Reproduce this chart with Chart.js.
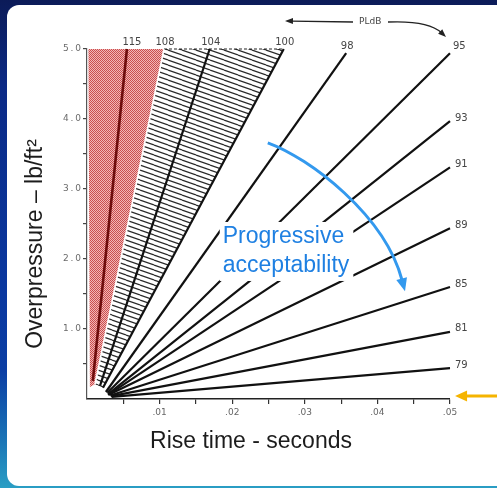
<!DOCTYPE html>
<html>
<head>
<meta charset="utf-8">
<script src="https://cdn.jsdelivr.net/npm/chart.js@4/dist/chart.umd.min.js"></script>
<style>
  html, body { margin: 0; padding: 0; width: 497px; height: 488px; overflow: hidden; }
  body {
    position: relative;
    background: linear-gradient(180deg, #0c1b58 0%, #0b2a86 18%, #0a38a0 60%, #0b3ea4 76%, #1a74b6 90%, #2a9ec4 100%);
  }
  #panel { position: absolute; left: 7px; top: 5px; width: 530px; height: 481px; background: #fff; border-radius: 12px; }
  #chart { position: absolute; left: 0; top: 0; }
</style>
</head>
<body>
<div id="panel"></div>
<canvas id="chart" width="497" height="488"></canvas>
<script>
// Perceived loudness (PLdB) contours: overpressure vs. rise time
const pldb       = [115,    108,    104,    100,    98,     95,     93,     91,     89,     85,     81,     79];
const riseStart  = [0.0008, 0.0011, 0.0018, 0.0022, 0.0026, 0.0028, 0.0029, 0.0029, 0.0030, 0.0032, 0.0033, 0.0034];
const pressStart = [0.26,   0.21,   0.19,   0.16,   0.10,   0.09,   0.07,   0.06,   0.06,   0.05,   0.04,   0.03];
const riseEnd    = [0.0055, 0.0106, 0.0169, 0.0271, 0.0357, 0.0500, 0.0500, 0.0500, 0.0500, 0.0500, 0.0500, 0.0500];
const pressEnd   = [5.00,   5.00,   5.00,   5.00,   4.94,   4.94,   3.97,   3.31,   2.44,   1.60,   0.96,   0.44];

// Unacceptable zone (stippled) and marginal zone (hatched)
const redRise    = [0.0002, 0.0106, 0.0011, 0.0004];
const redPress   = [5.00,   5.00,   0.21,   0.17];
const hatchRise  = [0.0106, 0.0271, 0.0022, 0.0011];
const hatchPress = [5.00,   5.00,   0.16,   0.21];

// Tick labels
const riseTickValues  = [0.01, 0.02, 0.03, 0.04, 0.05];
const riseTickText    = ['.01', '.02', '.03', '.04', '.05'];
const pressTickValues = [1, 2, 3, 4, 5];
const pressTickText   = ['1.0', '2.0', '3.0', '4.0', '5.0'];

// Callout paths in data units (rise time, overpressure)
const arcRise   = [0.0249, 0.0307, 0.0410, 0.0438];
const arcPress  = [3.66,   3.44,   2.63,   1.54];
const pointerRise  = [0.0569, 0.0507];
const pointerPress = [0.043,  0.043];

function makeStipple() {
  const c = document.createElement('canvas');
  c.width = 2; c.height = 2;
  const g = c.getContext('2d');
  g.fillStyle = '#f3b6b6'; g.fillRect(0, 0, 2, 2);
  g.fillStyle = '#c94f4f'; g.fillRect(0, 0, 1, 1); g.fillRect(1, 1, 1, 1);
  return g.createPattern(c, 'repeat');
}
function makeHatch() {
  const c = document.createElement('canvas');
  c.width = 14; c.height = 5;
  const g = c.getContext('2d');
  g.fillStyle = '#fff'; g.fillRect(0, 0, 14, 5);
  g.strokeStyle = '#2a2a2a'; g.lineWidth = 1.2;
  [-5, 0, 5].forEach(o => { g.beginPath(); g.moveTo(0, o); g.lineTo(14, o + 5); g.stroke(); });
  return g.createPattern(c, 'repeat');
}

const pts = (xs, ys) => xs.map((x, i) => ({ x, y: ys[i] }));
const datasets = [];
datasets.push({ data: pts(redRise, redPress), fill: 'shape', backgroundColor: makeStipple(),
  borderColor: 'rgba(0,0,0,0)', borderWidth: 0, pointRadius: 0, order: 20 });
datasets.push({ data: pts(hatchRise, hatchPress), fill: 'shape', backgroundColor: makeHatch(),
  borderColor: 'rgba(0,0,0,0)', borderWidth: 0, pointRadius: 0, order: 19 });
datasets.push({ data: [{ x: hatchRise[0], y: hatchPress[0] }, { x: hatchRise[1], y: hatchPress[1] }],
  borderColor: '#222', borderWidth: 1.2, borderDash: [3, 2], pointRadius: 0, fill: false, order: 5, clip: false });
pldb.forEach((v, i) => {
  datasets.push({
    label: v + ' PLdB',
    data: [{ x: riseStart[i], y: pressStart[i] }, { x: riseEnd[i], y: pressEnd[i] }],
    borderColor: v === 115 ? '#6e0c0c' : (v === 108 ? '#ffffff' : '#111111'),
    borderWidth: v === 108 ? 1.6 : (v === 115 ? 2.6 : 2.2),
    pointRadius: 0, fill: false, order: v === 108 ? 2 : 1, clip: false
  });
});

function arrowHead(ctx, tx, ty, dx, dy, len, half) {
  const n = Math.hypot(dx, dy); dx /= n; dy /= n;
  const bx = tx - dx * len, by = ty - dy * len;
  ctx.beginPath();
  ctx.moveTo(tx, ty);
  ctx.lineTo(bx - dy * half, by + dx * half);
  ctx.lineTo(bx + dy * half, by - dx * half);
  ctx.closePath();
  ctx.fill();
  return [bx + dx * 1.5, by + dy * 1.5];
}

const overlay = {
  id: 'overlay',
  afterDatasetsDraw(chart) {
    const { ctx, chartArea: ca } = chart;
    const X = v => chart.scales.x.getPixelForValue(v);
    const Y = v => chart.scales.y.getPixelForValue(v);
    ctx.save();

    // contour labels
    ctx.font = '10px "DejaVu Sans"';
    ctx.fillStyle = '#454545';
    pldb.forEach((v, i) => {
      const ex = X(riseEnd[i]), ey = Y(pressEnd[i]);
      if (riseEnd[i] < 0.0499) {
        ctx.textAlign = 'center'; ctx.textBaseline = 'alphabetic';
        ctx.fillText(String(v), ex + (v === 115 ? 5 : 1), ey - 4);
      } else if (pressEnd[i] > 4.8) {
        ctx.textAlign = 'left'; ctx.textBaseline = 'alphabetic';
        ctx.fillText(String(v), ex + 3, ey - 4);
      } else {
        ctx.textAlign = 'left'; ctx.textBaseline = 'middle';
        ctx.fillText(String(v), ex + 5, ey - 3);
      }
    });

    // PLdB key above the plot
    const ky = 5.386;
    ctx.font = '9px "DejaVu Sans"'; ctx.fillStyle = '#444';
    ctx.textAlign = 'center'; ctx.textBaseline = 'middle';
    ctx.fillText('PLdB', X(0.0390), Y(ky));
    ctx.strokeStyle = '#222'; ctx.fillStyle = '#222'; ctx.lineWidth = 1.3;
    let tip = [X(0.02727), Y(5.40)];
    let base = arrowHead(ctx, tip[0], tip[1], tip[0] - X(0.03664), tip[1] - Y(ky), 8, 3);
    ctx.beginPath(); ctx.moveTo(X(0.03664), Y(ky)); ctx.lineTo(base[0], base[1]); ctx.stroke();
    const c1 = [X(0.04700), Y(5.41)];
    tip = [X(0.04945), Y(5.171)];
    base = arrowHead(ctx, tip[0], tip[1], tip[0] - c1[0], tip[1] - c1[1], 8, 3);
    ctx.beginPath(); ctx.moveTo(X(0.04146), Y(ky)); ctx.quadraticCurveTo(c1[0], c1[1], base[0], base[1]); ctx.stroke();

    // "Progressive acceptability" callout
    ctx.font = '23px "Liberation Sans"';
    const tx = X(0.0187), ty1 = Y(2.229), ty2 = ty1 + 29;
    const w = Math.max(ctx.measureText('Progressive').width, ctx.measureText('acceptability').width);
    ctx.fillStyle = '#fff';
    ctx.fillRect(tx - 3, ty1 - 21, w + 7, 59);
    ctx.fillStyle = '#1f80e2';
    ctx.textAlign = 'left'; ctx.textBaseline = 'alphabetic';
    ctx.fillText('Progressive', tx, ty1);
    ctx.fillText('acceptability', tx, ty2);

    // curved arrow sweeping toward lower loudness
    const p = arcRise.map((r, i) => [X(r), Y(arcPress[i])]);
    ctx.fillStyle = '#3399ee'; ctx.strokeStyle = '#3399ee'; ctx.lineWidth = 3;
    base = arrowHead(ctx, p[3][0], p[3][1], p[3][0] - p[2][0], p[3][1] - p[2][1], 13, 5.5);
    ctx.beginPath();
    ctx.moveTo(p[0][0], p[0][1]);
    ctx.bezierCurveTo(p[1][0], p[1][1], p[2][0], p[2][1], base[0], base[1]);
    ctx.stroke();

    // pointer on the right margin
    ctx.fillStyle = '#f5b400'; ctx.strokeStyle = '#f5b400'; ctx.lineWidth = 3;
    const t0 = [X(pointerRise[0]), Y(pointerPress[0])], t1 = [X(pointerRise[1]), Y(pointerPress[1])];
    base = arrowHead(ctx, t1[0], t1[1], t1[0] - t0[0], t1[1] - t0[1], 12, 5.5);
    ctx.beginPath(); ctx.moveTo(t0[0], t0[1]); ctx.lineTo(base[0], base[1]); ctx.stroke();

    // axis titles
    ctx.fillStyle = '#1c1c1c';
    ctx.font = '23px "Liberation Sans"';
    ctx.textAlign = 'center'; ctx.textBaseline = 'alphabetic';
    ctx.fillText('Rise time - seconds', ca.left + 164, ca.bottom + 49);
    ctx.translate(ca.left - 45, ca.top + 195);
    ctx.rotate(-Math.PI / 2);
    ctx.fillText('Overpressure \u2013 lb/ft\u00B2', 0, 0);
    ctx.restore();
  }
};

const labelFor = (vals, texts) => v => {
  const i = vals.findIndex(t => Math.abs(t - v) < 1e-9);
  return i < 0 ? '' : texts[i];
};
const pressLabel = labelFor(pressTickValues, pressTickText);

new Chart(document.getElementById('chart'), {
  type: 'line',
  data: { datasets },
  options: {
    responsive: false,
    animation: false,
    devicePixelRatio: 1,
    layout: { padding: { left: 0, right: 47, top: 49, bottom: 59 } },
    plugins: { legend: { display: false }, tooltip: { enabled: false } },
    scales: {
      x: {
        type: 'linear', min: 0, max: 0.05,
        afterFit: s => { s.height = 30; },
        border: { display: true, color: '#222', width: 1.5 },
        grid: {
          drawOnChartArea: false, drawTicks: true, tickLength: 5,
          color: '#333', lineWidth: c => (c.tick && c.tick.value === 0 ? 0 : 1.2)
        },
        ticks: {
          stepSize: 0.005, autoSkip: false, maxRotation: 0, padding: 3,
          color: '#666', font: { family: 'DejaVu Sans', size: 9 },
          callback: labelFor(riseTickValues, riseTickText)
        }
      },
      y: {
        type: 'linear', min: 0, max: 5,
        afterFit: s => { s.width = 87; },
        border: { display: true, color: '#555', width: 1.2 },
        grid: {
          drawOnChartArea: false, drawTicks: true, tickLength: 4,
          color: '#444', lineWidth: c => (c.tick && c.tick.value === 0 ? 0 : 1.2)
        },
        ticks: {
          stepSize: 0.5, autoSkip: false, padding: 2,
          color: '#6a6a6a', font: { family: 'DejaVu Sans', size: 9 },
          callback: v => pressLabel(v).split('').join('\u2009')
        }
      }
    }
  },
  plugins: [overlay]
});
</script>
</body>
</html>
